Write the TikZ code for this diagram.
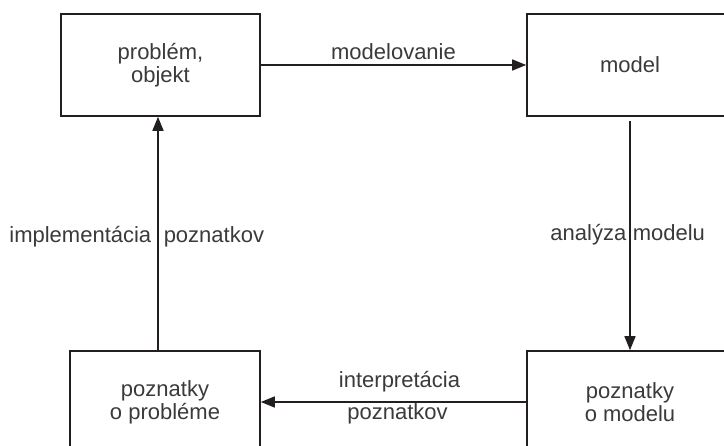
\documentclass[tikz,border=0pt]{standalone}
\usepackage{fontspec}
\setmainfont{Liberation Sans}
\usetikzlibrary{arrows.meta}
\definecolor{ink}{HTML}{231F20}
\definecolor{txt}{HTML}{3A3A3A}
\begin{document}
\begin{tikzpicture}[x=1pt,y=-1pt,
  every node/.style={text=txt, font=\fontsize{22}{23}\selectfont},
  box/.style={draw=ink, line width=1.6pt, align=center, inner sep=0pt, minimum height=102pt},
  conn/.style={draw=ink, line width=1.5pt, -{Triangle[length=14pt,width=11pt]}},
  lbl/.style={inner sep=0pt}]
\useasboundingbox (0,0) rectangle (724,446);
\node[box, minimum width=199pt] (tl) at (160.5,65) {problém,\\objekt};
\node[box, minimum width=206pt] (tr) at (630,65) {model};
\node[box, minimum width=190pt] (bl) at (165,402) {poznatky\\o probléme};
\node[box, minimum width=206pt] (br) at (630,402) {poznatky\\o modelu};
\draw[conn] (tl.east) -- (tr.west)
  node[lbl, midway, anchor=base, yshift=5pt] {modelovanie};
\draw[conn, shorten <=4pt] (tr.south) -- (br.north)
  node[lbl, pos=0.528, anchor=base east, xshift=-3pt] {analýza}
  node[lbl, pos=0.528, anchor=base west, xshift=2pt] {modelu};
\draw[conn] (br.west) -- (bl.east)
  node[lbl, midway, anchor=base, xshift=6pt, yshift=14pt] {interpretácia}
  node[lbl, midway, anchor=base, xshift=4pt, yshift=-18pt] {poznatkov};
\draw[conn] ([xshift=-7pt]bl.north) -- ([xshift=-2.5pt]tl.south)
  node[lbl, pos=0.46, anchor=base east, xshift=-6pt] {implementácia}
  node[lbl, pos=0.46, anchor=base west, xshift=5pt] {poznatkov};
\end{tikzpicture}
\end{document}
